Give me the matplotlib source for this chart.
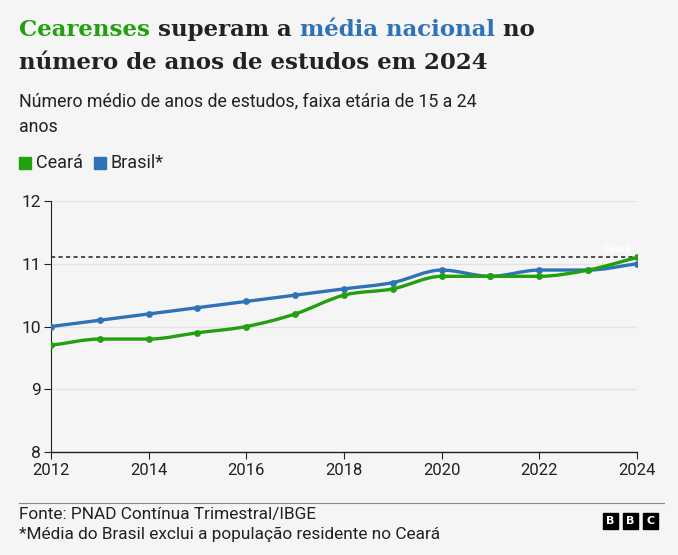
import numpy as np
import matplotlib.pyplot as plt
from matplotlib.path import Path
from matplotlib.patches import PathPatch, Rectangle

years = [2012, 2013, 2014, 2015, 2016, 2017, 2018, 2019, 2020, 2021, 2022, 2023, 2024]
ceara = [9.7, 9.8, 9.8, 9.9, 10.0, 10.2, 10.5, 10.6, 10.8, 10.8, 10.8, 10.9, 11.1]
brasil = [10.0, 10.1, 10.2, 10.3, 10.4, 10.5, 10.6, 10.7, 10.9, 10.8, 10.9, 10.9, 11.0]
ref_level = 11.1
y_ticks = [8, 9, 10, 11, 12]
x_ticks = [2012, 2014, 2016, 2018, 2020, 2022, 2024]

GREEN = '#22a00f'
BLUE = '#2f73b6'
DARK = '#222222'
BG = '#f5f5f5'


def monotone_path(x, y):
    """Bezier path through the points, monotone cubic (like d3 curveMonotoneX)"""
    x = np.asarray(x, float)
    y = np.asarray(y, float)
    h = np.diff(x)
    d = np.diff(y) / h
    m = np.zeros_like(y)
    m[0], m[-1] = d[0], d[-1]
    for i in range(1, len(y) - 1):
        if d[i - 1] * d[i] <= 0:
            m[i] = 0
        else:
            m[i] = (d[i - 1] * h[i] + d[i] * h[i - 1]) / (h[i - 1] + h[i])
            lim = 3 * min(abs(d[i - 1]), abs(d[i]))
            m[i] = np.sign(m[i]) * min(abs(m[i]), lim)
    verts = [(x[0], y[0])]
    codes = [Path.MOVETO]
    for i in range(len(x) - 1):
        dx = h[i] / 3
        verts += [(x[i] + dx, y[i] + m[i] * dx),
                  (x[i + 1] - dx, y[i + 1] - m[i + 1] * dx),
                  (x[i + 1], y[i + 1])]
        codes += [Path.CURVE4] * 3
    return Path(verts, codes)


fig = plt.figure(figsize=(6.78, 5.55), dpi=100)
fig.patch.set_facecolor(BG)
ax = fig.add_axes([0.0752, 0.1856, 0.8643, 0.4522])
ax.set_facecolor(BG)

for series, col in [(brasil, BLUE), (ceara, GREEN)]:
    ax.add_patch(PathPatch(monotone_path(years, series), facecolor='none',
                           edgecolor=col, linewidth=2.4, zorder=3))
    ax.scatter(years, series, s=24, color=col, zorder=4, linewidths=0)

ax.axhline(ref_level, color='#333333', linestyle=(0, (2.5, 2)), linewidth=1.2, zorder=2)
ax.text(2023.9, ref_level + 0.05, 'Ceará', color='white', fontsize=8,
        fontweight='bold', ha='right', va='bottom', family='Roboto', zorder=5)

ax.set_xlim(2012, 2024)
ax.set_ylim(8, 12)
ax.set_yticks(y_ticks)
ax.set_xticks(x_ticks)
ax.grid(axis='y', color='#e3e3e3', linewidth=1, zorder=0)
for s in ['top', 'right']:
    ax.spines[s].set_visible(False)
ax.spines['left'].set_color(DARK)
ax.spines['bottom'].set_color(DARK)
ax.spines['left'].set_linewidth(0.8)
ax.spines['bottom'].set_linewidth(1.0)
ax.tick_params(axis='both', colors=DARK, length=5, width=0.8)
ax.tick_params(axis='x', pad=3, labelsize=12)
ax.tick_params(axis='y', pad=2, labelsize=12.5)
for lab in ax.get_xticklabels() + ax.get_yticklabels():
    lab.set_family('Roboto')
    lab.set_color(DARK)

# title with coloured words
fig.canvas.draw()
renderer = fig.canvas.get_renderer()
W = fig.bbox.width
x0 = 19
tfont = dict(family='DejaVu Serif', fontsize=16.5, fontweight='bold', va='baseline')
parts = [('Cearenses', GREEN), (' superam a ', DARK), ('média nacional', BLUE), (' no', DARK)]
xpos = x0
for txt, col in parts:
    t = fig.text(xpos / W, 1 - 36 / 555, txt, color=col, **tfont)
    bb = t.get_window_extent(renderer)
    xpos += bb.width
fig.text(x0 / W, 1 - 69 / 555, 'número de anos de estudos em 2024', color=DARK, **tfont)

fig.text(x0 / W, 1 - 106 / 555, 'Número médio de anos de estudos, faixa etária de 15 a 24',
         family='Roboto', fontsize=12.8, color=DARK, va='baseline')
fig.text(x0 / W, 1 - 132 / 555, 'anos', family='Roboto', fontsize=12.8, color=DARK,
         va='baseline')

# legend
fig.patches.append(Rectangle((19 / W, 1 - 169 / 555), 12 / W, 12 / 555,
                             transform=fig.transFigure, color=GREEN))
fig.text(36 / W, 1 - 168 / 555, 'Ceará', family='Roboto', fontsize=13, color=DARK,
         va='baseline')
fig.patches.append(Rectangle((94 / W, 1 - 169 / 555), 12 / W, 12 / 555,
                             transform=fig.transFigure, color=BLUE))
fig.text(111 / W, 1 - 168 / 555, 'Brasil*', family='Roboto', fontsize=13, color=DARK,
         va='baseline')

# footer
fig.add_artist(plt.Line2D([19 / W, 664 / W], [1 - 503 / 555, 1 - 503 / 555],
                          transform=fig.transFigure, color='#888888', linewidth=0.8))
fig.text(19 / W, 1 - 519 / 555, 'Fonte: PNAD Contínua Trimestral/IBGE', family='Roboto',
         fontsize=12.4, color=DARK, va='baseline')
fig.text(19 / W, 1 - 539 / 555, '*Média do Brasil exclui a população residente no Ceará',
         family='Roboto', fontsize=12.4, color=DARK, va='baseline')

# BBC blocks
for i, letter in enumerate('BBC'):
    bx = 603 + i * 20
    fig.patches.append(Rectangle((bx / W, 1 - 529 / 555), 15 / W, 16 / 555,
                                 transform=fig.transFigure, color='black'))
    fig.text((bx + 7.5) / W, 1 - 521 / 555, letter, color='white', fontsize=8,
             fontweight='bold', ha='center', va='center', family='DejaVu Sans')

fig.savefig('out.png', dpi=100, facecolor=BG)
